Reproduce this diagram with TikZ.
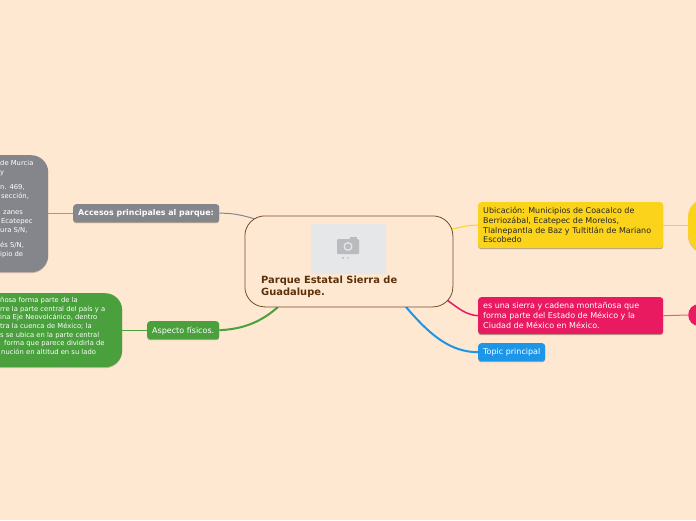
\documentclass[tikz,border=0pt]{standalone}
\usepackage{fontspec}
\setmainfont{DejaVu Sans}
\usetikzlibrary{positioning,shadows}
\definecolor{paper}{HTML}{FFE8D1}
\definecolor{rootbrown}{HTML}{5B310B}
\definecolor{greybox}{HTML}{85868C}
\definecolor{greenbox}{HTML}{49A03C}
\definecolor{yellowbox}{HTML}{FBD31B}
\definecolor{redbox}{HTML}{E91A5F}
\definecolor{bluebox}{HTML}{1B96E8}
\definecolor{photo}{HTML}{E6E7E9}
\definecolor{photomark}{HTML}{B9BBBE}

\begin{document}
\begin{tikzpicture}[
  x=1pt, y=-1pt,
  every node/.style={inner sep=0pt, font=\fontsize{7.6}{9.7}\selectfont},
  topicbox/.style={rounded corners=3pt, anchor=north west, inner sep=0pt,
    drop shadow={shadow xshift=0pt, shadow yshift=-1pt, opacity=0.3, fill=black}},
  subtopic/.style={rounded corners=17pt, anchor=north west, inner sep=0pt,
    drop shadow={shadow xshift=0pt, shadow yshift=-1pt, opacity=0.2, fill=black}},
  textlabel/.style={anchor=north west, align=left},
  link/.style={line width=1pt}
]
\useasboundingbox[fill=paper] (0,0) rectangle (696,520);

% outer boxes, cut by the page edge
\node[subtopic, fill=greybox, minimum width=108pt, minimum height=117pt] (accessbox) at (-60,155) {};
\node[subtopic, fill=greenbox, minimum width=182pt, minimum height=74pt] (physicbox) at (-60,293) {};
\node[subtopic, fill=yellowbox, minimum width=60pt, minimum height=53pt] (placebox) at (688,199) {};
\node[circle, fill=redbox, minimum size=22pt, anchor=west] (sierrabox) at (688,315) {};

% topics
\node[topicbox, fill=greybox, minimum width=146pt, minimum height=18pt] (access) at (73,204) {};
\node[topicbox, fill=greenbox, minimum width=72pt, minimum height=18pt] (physic) at (147,321) {};
\node[topicbox, fill=yellowbox, minimum width=185pt, minimum height=46pt] (place) at (478,202) {};
\node[topicbox, fill=redbox, minimum width=185pt, minimum height=37pt] (sierra) at (478,297) {};
\node[topicbox, fill=bluebox, minimum width=67pt, minimum height=18pt] (topic) at (478,343) {};

% connectors
\draw[link, greybox!80!paper] (accessbox.east |- access.west) -- (access.west);
\draw[link, greenbox] (physicbox.east |- physic.west) -- (physic.west);
\draw[link, yellowbox] (place.east) -- (placebox.west |- place.east);
\draw[link, redbox!70!paper] (sierra.east) -- (sierrabox.west);
\draw[link, greybox] (access.east) .. controls (232,213) and (242,215) .. (255,219);
\draw[line width=2pt, greenbox] (physic.east) .. controls (245,329) and (262,321) .. (278,307);
\draw[link, yellowbox] (place.west) .. controls (468,225) and (462,227) .. (452,229);
\draw[line width=1.5pt, redbox] (447,300) .. controls (458,308) and (466,315) .. (sierra.west);
\draw[line width=2pt, bluebox] (406,307) .. controls (430,335) and (450,352) .. (topic.west);

% central topic
\node[draw=rootbrown!85!paper, fill=paper, rounded corners=20pt, line width=0.8pt, minimum width=208pt, minimum height=91pt, anchor=north west] (root) at (244.5,215.5) {};
\node[fill=photo, rounded corners=2pt, minimum width=75pt, minimum height=50pt, anchor=north west] (photobox) at (311,224) {};
\fill[photomark, rounded corners=1pt] (337,239) rectangle (359,254);
\fill[photomark] (350,237) rectangle (357,240);
\fill[photo] (348,246.5) circle (4.5);
\fill[photomark] (348,246.5) circle (3);
\fill[photomark] (343,258) circle (1.2);
\fill[photomark!70!photo] (348,258) circle (1.2);

% texts
\node[textlabel, text=white, font=\fontsize{7.9}{9.7}\selectfont\bfseries] (accesslabel) at (78,209.5) {Accesos principales al parque:};
\node[textlabel, text=white, font=\fontsize{8}{9.7}\selectfont] (physiclabel) at (152,326.5) {Aspecto físicos.};
\node[textlabel, text=black!85, font=\fontsize{8}{9.7}\selectfont] (placelabel) at (483,207) {Ubicación: Municipios de Coacalco de\\Berriozábal, Ecatepec de Morelos,\\Tlalnepantla de Baz y Tultitlán de Mariano\\Escobedo};
\node[textlabel, text=white, font=\fontsize{8}{9.6}\selectfont] (sierralabel) at (483,302.5) {es una sierra y cadena montañosa que\\forma parte del Estado de México y la\\Ciudad de México en México.};
\node[textlabel, text=white, font=\fontsize{8}{9.6}\selectfont] (topiclabel) at (483,348) {Topic principal};
\node[textlabel, text=rootbrown, font=\fontsize{9.9}{12}\selectfont\bfseries] (rootlabel) at (261,276) {Parque Estatal Sierra de\\Guadalupe.};
\node[textlabel, text=white, font=\fontsize{6.8}{9}\selectfont] (accesstext) at (0,160) {de Murcia\\y\\[6.5pt]n. 469,\\\hspace*{1pt}sección,\\[6.5pt]\hspace*{3pt}zanes\\\hspace*{1pt}Ecatepec\\ura S/N,\\[6.5pt]és S/N,\\ipio de};
\node[textlabel, text=white, font=\fontsize{6.8}{8.65}\selectfont] (physictext) at (0,297) {ñosa forma parte de la\\rre la parte central del país y a\\ina Eje Neovolcánico, dentro\\tra la cuenca de México; la\\s se ubica en la parte central\\\hspace*{4pt}forma que parece dividirla de\\\hspace*{1pt}nución en altitud en su lado};
\end{tikzpicture}
\end{document}
